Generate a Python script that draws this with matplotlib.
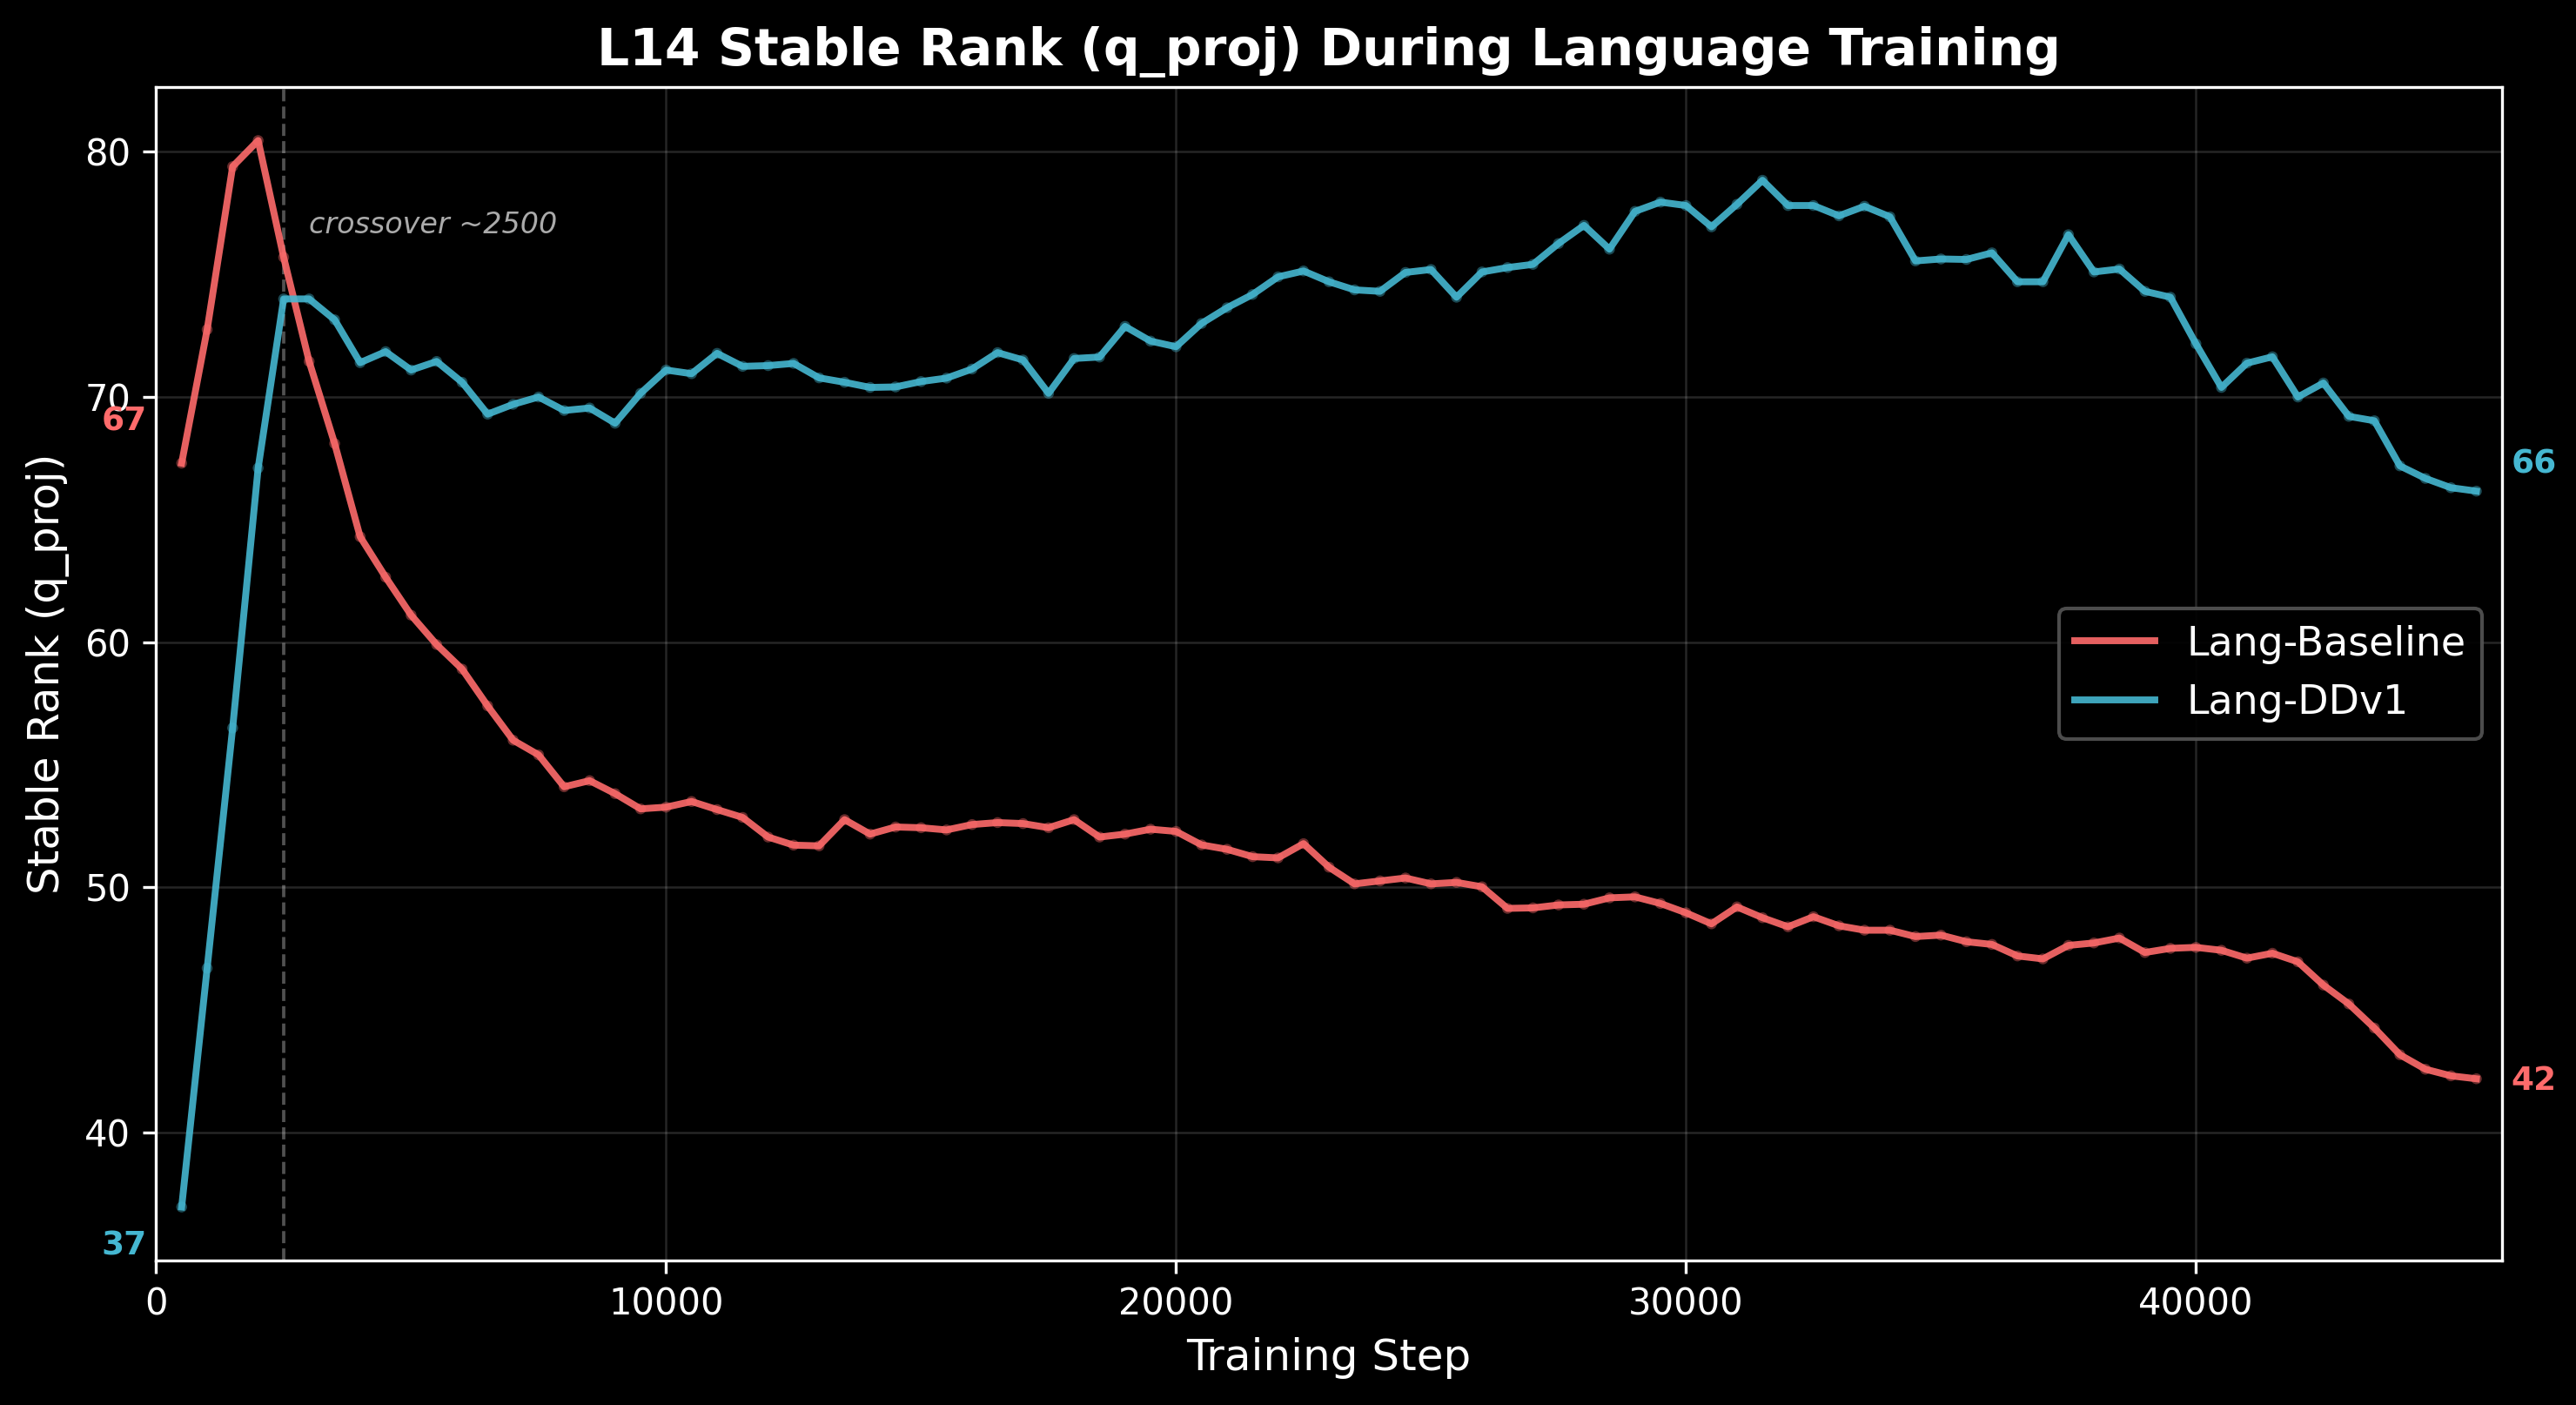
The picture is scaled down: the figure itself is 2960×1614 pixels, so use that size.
import numpy as np
import matplotlib
matplotlib.use("Agg")
import matplotlib.pyplot as plt

# -------------------------------
# DATA (stable rank of L14 q_proj, every 500 steps)
# -------------------------------
steps = np.arange(500, 45501, 500)

baseline = [
    67.3, 72.75, 79.4, 80.46, 75.7, 71.45, 68.1, 64.3, 62.65, 61.1,
    59.9, 58.9, 57.4, 56.0, 55.4, 54.1, 54.35, 53.82, 53.2, 53.27,
    53.5, 53.17, 52.85, 52.05, 51.72, 51.69, 52.76, 52.17, 52.46, 52.43,
    52.34, 52.56, 52.64, 52.6, 52.43, 52.76, 52.05, 52.17, 52.37, 52.28,
    51.73, 51.55, 51.25, 51.2, 51.78, 50.82, 50.14, 50.26, 50.38, 50.14,
    50.2, 50.02, 49.14, 49.16, 49.28, 49.31, 49.57, 49.61, 49.34, 48.96,
    48.51, 49.2, 48.76, 48.39, 48.8, 48.43, 48.25, 48.25, 47.99, 48.05,
    47.78, 47.67, 47.2, 47.08, 47.63, 47.73, 47.93, 47.34, 47.51, 47.55,
    47.43, 47.11, 47.31, 46.96, 46.01, 45.24, 44.26, 43.17, 42.58, 42.31,
    42.19,
]

ddv1 = [
    36.96, 46.7, 56.5, 67.1, 74.0, 74.0, 73.15, 71.4, 71.85, 71.1,
    71.45, 70.6, 69.3, 69.7, 70.0, 69.45, 69.55, 68.93, 70.15, 71.1,
    70.95, 71.78, 71.25, 71.28, 71.37, 70.78, 70.6, 70.39, 70.41, 70.63,
    70.77, 71.14, 71.81, 71.51, 70.15, 71.57, 71.63, 72.88, 72.28, 72.05,
    73.0, 73.64, 74.18, 74.9, 75.14, 74.70, 74.37, 74.31, 75.08, 75.20,
    74.07, 75.10, 75.28, 75.41, 76.26, 77.0, 76.03, 77.57, 77.95, 77.81,
    76.94, 77.86, 78.84, 77.81, 77.81, 77.39, 77.78, 77.35, 75.55, 75.63,
    75.61, 75.88, 74.70, 74.70, 76.62, 75.10, 75.22, 74.31, 74.07, 72.17,
    70.39, 71.38, 71.64, 70.0, 70.57, 69.21, 69.03, 67.19, 66.68, 66.30,
    66.16,
]

names = ["Lang-Baseline", "Lang-DDv1"]
colors = ["#FF6B6B", "#45B7D1"]
crossover_step = 2500

# label offsets (start, end) so the value tags don't sit on the lines
start_offsets = [1.7, -1.6]
end_offsets = [-0.1, 1.1]

# -------------------------------
# PLOT
# -------------------------------
plt.style.use("dark_background")
fig = plt.figure(figsize=(9.87, 5.38), dpi=300)
ax = fig.add_axes([0.0606, 0.1029, 0.9103, 0.8351])

for name, vals, col, s_off, e_off in zip(names, [baseline, ddv1], colors,
                                         start_offsets, end_offsets):
    ax.plot(steps, vals, color=col, lw=1.9, alpha=0.9, label=name, zorder=3)
    ax.scatter(steps, vals, color=col, s=9, alpha=0.4, zorder=2,
               edgecolors="none")
    ax.text(-0.004, vals[0] + s_off, f"{vals[0]:.0f}", color=col,
            fontsize=9, fontweight="bold", ha="right", va="center",
            transform=ax.get_yaxis_transform())
    ax.text(1.004, vals[-1] + e_off, f"{vals[-1]:.0f}", color=col,
            fontsize=9, fontweight="bold", ha="left", va="center",
            transform=ax.get_yaxis_transform())

ax.axvline(crossover_step, color="#888888", ls="--", lw=0.9, alpha=0.6,
           zorder=1)
ax.text(crossover_step + 500, 77.0, f"crossover ~{crossover_step}",
        color="#aaaaaa", fontsize=8, style="italic", va="center")

ax.set_xlim(0, 46000)
ax.set_ylim(34.78, 82.64)
ax.set_xticks([0, 10000, 20000, 30000, 40000])
ax.set_yticks([40, 50, 60, 70, 80])
ax.grid(True, color="white", alpha=0.15, lw=0.6)

ax.set_title("L14 Stable Rank (q_proj) During Language Training",
             fontsize=14, fontweight="bold")
ax.set_xlabel("Training Step", fontsize=12)
ax.set_ylabel("Stable Rank (q_proj)", fontsize=12)

leg = ax.legend(loc="center right", fontsize=11, facecolor="black",
                edgecolor="#555555", framealpha=0.9)

fig.savefig("out.png", dpi=300, facecolor="black")
